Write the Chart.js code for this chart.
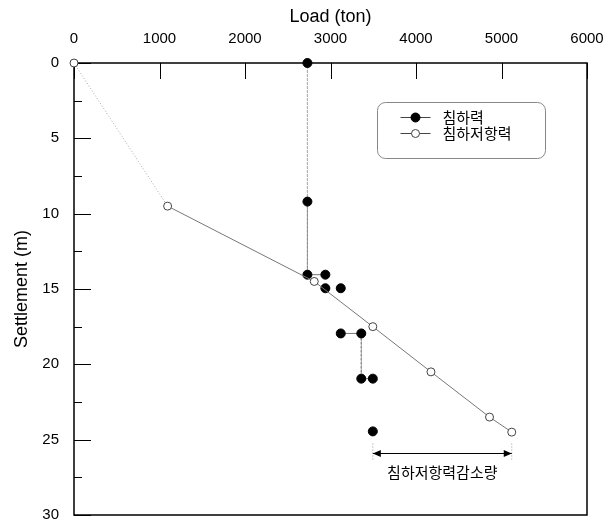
<!DOCTYPE html>
<html>
<head>
<meta charset="utf-8">
<script src="https://cdn.jsdelivr.net/npm/chart.js@4"></script>
<style>
  html, body { margin: 0; padding: 0; background: #fff; }
  canvas { display: block; }
</style>
</head>
<body>
<canvas id="settleChart" width="614" height="531"></canvas>
<script>
// load (ton) against settlement (m)
const forceLoad = [2730, 2730, 2730, 2940, 2940, 3120, 3120, 3360, 3360, 3495, 3495];
const forceSettle = [0, 9.2, 14.05, 14.05, 14.95, 14.95, 17.95, 17.95, 20.95, 20.95, 24.45];
const resistLoad = [0, 1095, 2810, 3495, 4175, 4860, 5120];
const resistSettle = [0, 9.5, 14.5, 17.5, 20.5, 23.5, 24.5];
const seriesNames = ["침하력", "침하저항력"];

const loadTicks = [0, 1000, 2000, 3000, 4000, 5000, 6000];
const settleTicks = [0, 5, 10, 15, 20, 25, 30];
const settleMinor = [2.5, 7.5, 12.5, 17.5, 22.5, 27.5];

// the "reduction" dimension arrow under the curves
const reduceSpan = [3495, 5120];
const reduceDepth = 25.9;
const reduceLabel = "침하저항력감소량";

const FONT = "'Liberation Sans', Arial, 'Noto Sans CJK KR', sans-serif";
Chart.defaults.font.family = FONT;
Chart.defaults.color = "#000";

const toPoints = (xs, ys) => xs.map((v, i) => ({ x: v, y: ys[i] }));

// how each step of the 침하력 trace looks in the scan
const stepStyle = ["faint", "dot", "solid", "none", "none", "none", "solid", "dot", "solid", "none"];
const styleColor = { faint: "#b0b0b0", dot: "#8a8a8a", solid: "#777", none: "rgba(0,0,0,0)" };

// inward ticks and the plot frame
const frameTicks = {
  id: "frameTicks",
  beforeDatasetsDraw(chart) {
    const { ctx, chartArea: a, scales: { x, y } } = chart;
    ctx.save();
    ctx.strokeStyle = "#000";
    ctx.lineWidth = 1;
    ctx.beginPath();
    loadTicks.forEach((v) => {
      const px = Math.round(x.getPixelForValue(v)) + 0.5;
      ctx.moveTo(px, a.top);
      ctx.lineTo(px, a.top + 16);
    });
    settleTicks.forEach((v) => {
      const py = Math.round(y.getPixelForValue(v)) + 0.5;
      ctx.moveTo(a.left, py);
      ctx.lineTo(a.left + 17, py);
    });
    settleMinor.forEach((v) => {
      const py = Math.round(y.getPixelForValue(v)) + 0.5;
      ctx.moveTo(a.left, py);
      ctx.lineTo(a.left + 8, py);
    });
    ctx.stroke();
    ctx.lineWidth = 1.5;
    ctx.strokeRect(a.left, a.top, a.right - a.left, a.bottom - a.top);
    ctx.restore();
  },
};

// arrow showing the drop in resistance
const reduceArrow = {
  id: "reduceArrow",
  afterDatasetsDraw(chart) {
    const { ctx, scales: { x, y } } = chart;
    const x1 = x.getPixelForValue(reduceSpan[0]);
    const x2 = x.getPixelForValue(reduceSpan[1]);
    const yy = Math.round(y.getPixelForValue(reduceDepth)) + 0.5;
    ctx.save();
    ctx.strokeStyle = "#999";
    ctx.setLineDash([1, 2]);
    ctx.beginPath();
    [x1, x2].forEach((px) => {
      ctx.moveTo(px, yy - 10);
      ctx.lineTo(px, yy + 8);
    });
    ctx.stroke();
    ctx.setLineDash([]);
    ctx.strokeStyle = "#000";
    ctx.beginPath();
    ctx.moveTo(x1, yy);
    ctx.lineTo(x2, yy);
    ctx.stroke();
    ctx.fillStyle = "#000";
    ctx.beginPath();
    ctx.moveTo(x1, yy);
    ctx.lineTo(x1 + 8, yy - 3.5);
    ctx.lineTo(x1 + 8, yy + 3.5);
    ctx.closePath();
    ctx.moveTo(x2, yy);
    ctx.lineTo(x2 - 8, yy - 3.5);
    ctx.lineTo(x2 - 8, yy + 3.5);
    ctx.closePath();
    ctx.fill();
    ctx.font = "15px " + FONT;
    ctx.textAlign = "center";
    ctx.textBaseline = "middle";
    ctx.fillText(reduceLabel, (x1 + x2) / 2, yy + 20);
    ctx.restore();
  },
};

// rounded legend box inside the plot
const boxLegend = {
  id: "boxLegend",
  afterDraw(chart) {
    const { ctx } = chart;
    const bx = 377.5, by = 102.5, bw = 168, bh = 56;
    ctx.save();
    ctx.strokeStyle = "#888";
    ctx.lineWidth = 1;
    ctx.beginPath();
    ctx.roundRect(bx, by, bw, bh, 8);
    ctx.stroke();
    chart.data.datasets.forEach((ds, i) => {
      const ly = by + 15 + i * 16;
      ctx.strokeStyle = "#444";
      ctx.beginPath();
      ctx.moveTo(bx + 23, ly);
      ctx.lineTo(bx + 53, ly);
      ctx.stroke();
      ctx.fillStyle = ds.pointBackgroundColor;
      ctx.strokeStyle = ds.pointBorderColor;
      ctx.beginPath();
      ctx.arc(bx + 38, ly, ds.pointRadius, 0, Math.PI * 2);
      ctx.fill();
      ctx.stroke();
      ctx.fillStyle = "#000";
      ctx.font = "15px " + FONT;
      ctx.textBaseline = "middle";
      ctx.fillText(ds.label, bx + 65, ly + 1);
    });
    ctx.restore();
  },
};

new Chart(document.getElementById("settleChart"), {
  type: "scatter",
  data: {
    datasets: [
      {
        label: seriesNames[0],
        data: toPoints(forceLoad, forceSettle),
        showLine: true,
        borderWidth: 1,
        borderColor: "#777",
        segment: {
          borderColor: (c) => styleColor[stepStyle[c.p0DataIndex]],
          borderDash: (c) => (stepStyle[c.p0DataIndex] === "solid" ? [] : [2, 2]),
        },
        pointRadius: 4.5,
        pointBackgroundColor: "#000",
        pointBorderColor: "#000",
        pointBorderWidth: 1,
        clip: false,
        order: 2,
      },
      {
        label: seriesNames[1],
        data: toPoints(resistLoad, resistSettle),
        showLine: true,
        borderWidth: 1,
        borderColor: "#777",
        segment: {
          borderColor: (c) => (c.p0DataIndex === 0 ? "#aaa" : "#777"),
          borderDash: (c) => (c.p0DataIndex === 0 ? [1, 2] : []),
        },
        pointRadius: 4,
        pointBackgroundColor: "#fff",
        pointBorderColor: "#444",
        pointBorderWidth: 1,
        clip: false,
        order: 1,
      },
    ],
  },
  options: {
    responsive: false,
    devicePixelRatio: 1,
    animation: false,
    layout: { padding: { top: 0, right: 27, bottom: 2, left: 0 } },
    plugins: { legend: { display: false }, tooltip: { enabled: false } },
    scales: {
      x: {
        type: "linear",
        position: "top",
        min: 0,
        max: 6000,
        afterBuildTicks: (s) => { s.ticks = loadTicks.map((v) => ({ value: v })); },
        afterFit: (s) => { s.height = 63; },
        grid: { display: false },
        border: { display: false },
        ticks: { font: { size: 15 }, padding: 7, maxRotation: 0, callback: (v) => String(v) },
        title: { display: true, text: "Load (ton)", font: { size: 18 }, padding: { top: 6, bottom: 0 } },
      },
      y: {
        type: "linear",
        reverse: true,
        min: 0,
        max: 30,
        afterBuildTicks: (s) => { s.ticks = settleTicks.map((v) => ({ value: v })); },
        afterFit: (s) => { s.width = 74; },
        grid: { display: false },
        border: { display: false },
        ticks: { font: { size: 15 }, padding: 7, callback: (v) => String(v) },
        title: { display: true, text: "Settlement (m)", font: { size: 18 }, padding: { top: 11, bottom: 0 } },
      },
    },
  },
  plugins: [frameTicks, reduceArrow, boxLegend],
});
</script>
</body>
</html>
